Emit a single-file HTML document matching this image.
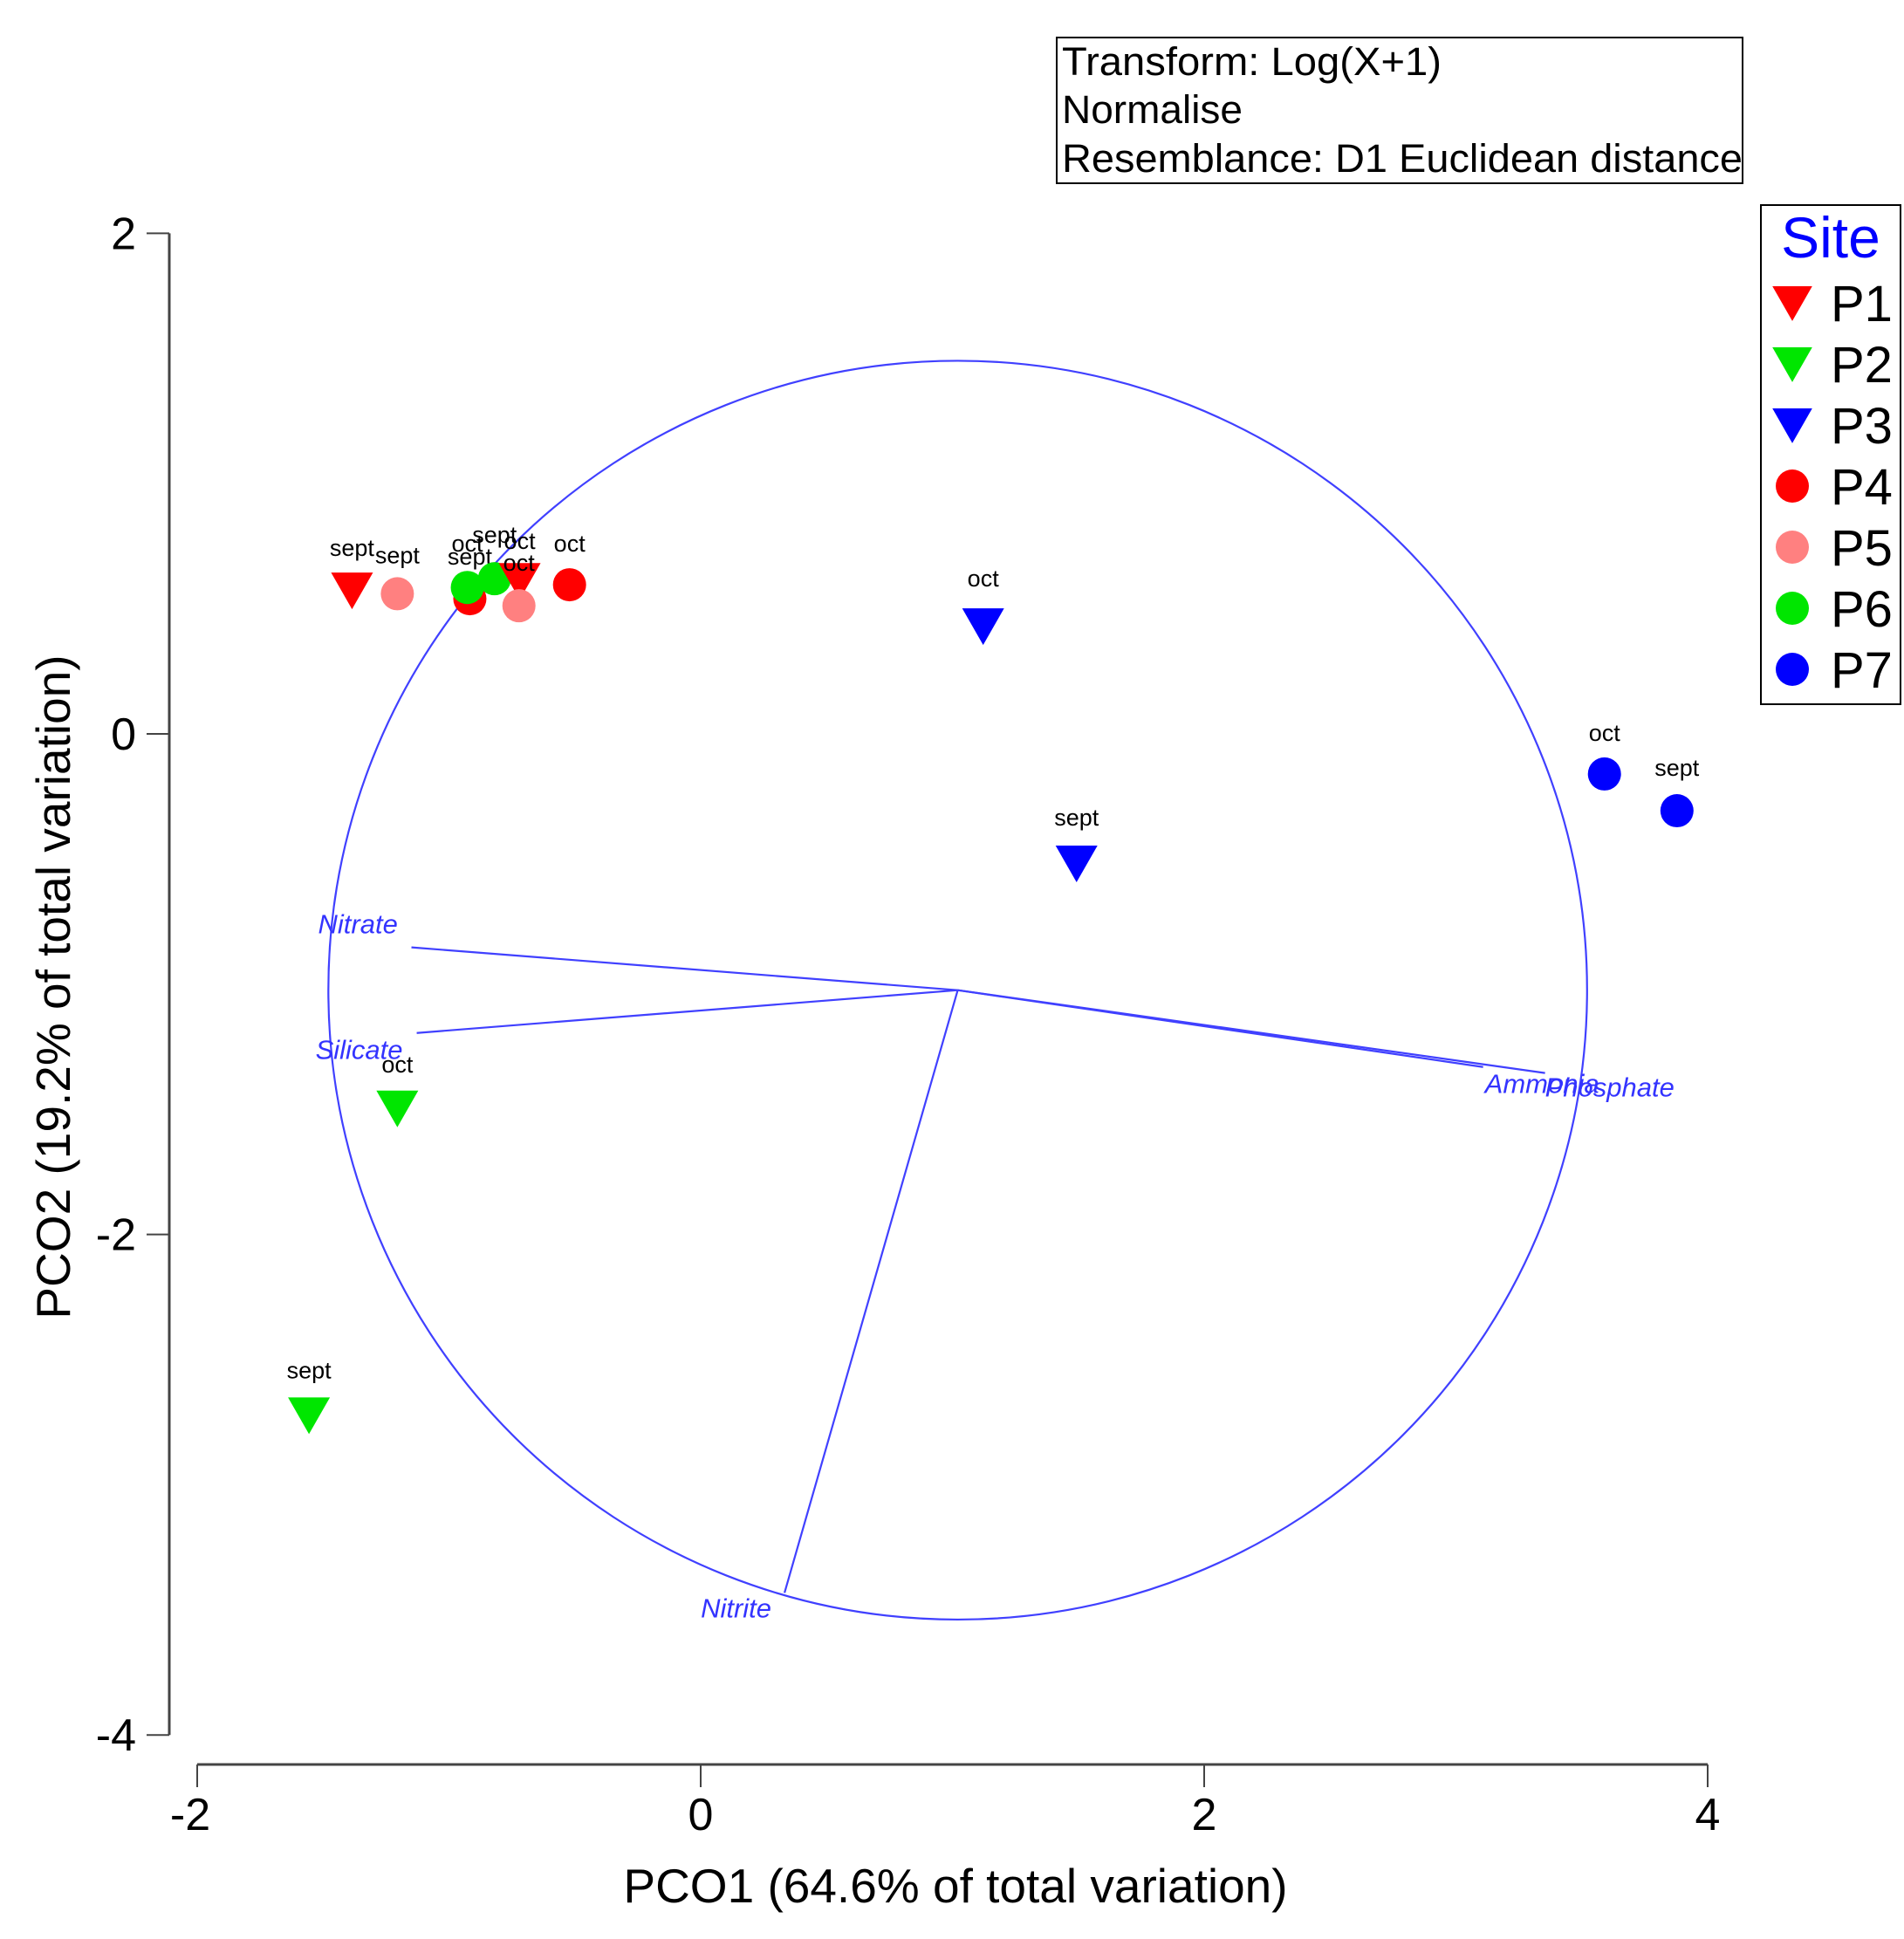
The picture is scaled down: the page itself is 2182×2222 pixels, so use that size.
<!DOCTYPE html>
<html><head><meta charset="utf-8"><style>
html,body{margin:0;padding:0;background:#fff;}
svg{display:block;font-family:"Liberation Sans",Arial,sans-serif;}
</style></head><body>
<svg id="chart" width="2182" height="2222" viewBox="0 0 2182 2222" xmlns="http://www.w3.org/2000/svg">
<g id="axes"></g>
<g id="vectors"></g>
<g id="points"></g>
<g>
<rect x="1211" y="43" width="786" height="167" fill="#fff" stroke="#000" stroke-width="2"/>
<text x="1217" y="86" font-size="45" fill="#000" textLength="435" lengthAdjust="spacingAndGlyphs">Transform: Log(X+1)</text>
<text x="1217" y="141" font-size="45" fill="#000" textLength="207" lengthAdjust="spacingAndGlyphs">Normalise</text>
<text x="1217" y="197" font-size="45" fill="#000" textLength="780" lengthAdjust="spacingAndGlyphs">Resemblance: D1 Euclidean distance</text>
</g>
<g id="legend">
<rect x="2018" y="235" width="160" height="572" fill="#fff" stroke="#000" stroke-width="2"/>
<text x="2098" y="295" font-size="66" fill="#0000ff" text-anchor="middle">Site</text>
</g>
<text x="1095" y="2180" font-size="55" text-anchor="middle" fill="#000">PCO1 (64.6% of total variation)</text>
<text x="0" y="0" font-size="55" text-anchor="middle" fill="#000" transform="translate(80,1131) rotate(-90)">PCO2 (19.2% of total variation)</text>
</svg>
<script>
const sites = ["P1","P2","P3","P4","P5","P6","P7"];
const siteColors = ["#ff0000","#00e600","#0000ff","#ff0000","#ff8080","#00e600","#0000ff"];
const siteShapes = ["tri","tri","tri","circle","circle","circle","circle"];
const pointSite = ["P1","P5","P4","P6","P6","P1","P5","P4","P3","P3","P7","P7","P2","P2"];
const pointLabel = ["sept","sept","sept","oct","sept","oct","oct","oct","oct","sept","oct","sept","oct","sept"];
const pointX = [-1.385,-1.205,-0.917,-0.927,-0.819,-0.719,-0.722,-0.521,1.122,1.493,3.590,3.878,-1.205,-1.556];
const pointY = [0.575,0.560,0.540,0.585,0.620,0.613,0.512,0.596,0.432,-0.516,-0.160,-0.307,-1.495,-2.721];
const labelDy = [-48,-44,-48,-50,-50,-45,-49,-47,-54,-52,-47,-49,-50,-51];
const vecNames = ["Nitrate","Silicate","Nitrite","Ammonia","Phosphate"];
const vecX = [-2.17,-2.149,-0.688,2.087,2.333];
const vecY = [0.171,-0.171,-2.408,-0.307,-0.331];
const circleCenter = [1.021,-1.024];
const circleRadius = 2.5;
const xTicks = [-2,0,2,4];
const yTicks = [2,0,-2,-4];

const NS="http://www.w3.org/2000/svg";
const X0=803, XS=288.5, Y0=841, YS=286.8;
const sx=v=>X0+v*XS, sy=v=>Y0-v*YS;
function mk(tag,attrs,parent){const e=document.createElementNS(NS,tag);for(const k in attrs)e.setAttribute(k,attrs[k]);parent.appendChild(e);return e;}

const axes=document.getElementById('axes');
let yl=mk('line',{x1:194,y1:sy(2),x2:194,y2:sy(-4),stroke:'#444','stroke-width':3},axes);


let xl=mk('line',{x1:sx(-2),y1:2022,x2:sx(4),y2:2022,stroke:'#444','stroke-width':3},axes);


yTicks.forEach(t=>{
  const l=mk('line',{x1:168,y1:sy(t),x2:194,y2:sy(t),stroke:'#444','stroke-width':2},axes);
  
  
  const tx=mk('text',{x:156,y:sy(t)+18,'font-size':52,'text-anchor':'end',fill:'#000'},axes);
  tx.textContent=String(t);
  
  
});
xTicks.forEach(t=>{
  const l=mk('line',{x1:sx(t),y1:2022,x2:sx(t),y2:2048,stroke:'#444','stroke-width':2},axes);
  
  
  const tx=mk('text',{x:sx(t)-(t<0?8:0),y:2097,'font-size':52,'text-anchor':'middle',fill:'#000'},axes);
  tx.textContent=String(t);
  
  
});

const vg=document.getElementById('vectors');
const cx=sx(circleCenter[0]), cy=sy(circleCenter[1]);
const circ=mk('circle',{cx:cx,cy:cy,r:circleRadius*XS,fill:'none',stroke:'#4040ff','stroke-width':2.2},vg);


const labelOff={Nitrate:[-107,-26],Silicate:[-116,20],Nitrite:[-96,18],Ammonia:[2,20],Phosphate:[0,17]};
vecNames.forEach((n,i)=>{
  const ex=sx(circleCenter[0]+vecX[i]), ey=sy(circleCenter[1]+vecY[i]);
  const l=mk('line',{x1:cx,y1:cy,x2:ex,y2:ey,stroke:'#4040ff','stroke-width':2.2},vg);
  
  
  const o=labelOff[n];
  const t=mk('text',{x:ex+o[0],y:ey+o[1]+10,'font-size':31,'font-style':'italic',fill:'#3333ff'},vg);
  t.textContent=n;
  
  
});

function marker(shape,color,x,y,g,s){
  let e;
  if(shape==='tri'){
    e=mk('polygon',{points:`${x-24*s},${y-20*s} ${x+24*s},${y-20*s} ${x},${y+22*s}`,fill:color},g);
  } else {
    e=mk('circle',{cx:x,cy:y,r:19*s,fill:color},g);
  }
  return e;
}
const pg=document.getElementById('points');
pointX.forEach((v,i)=>{
  const si=sites.indexOf(pointSite[i]);
  const px=sx(v), py=sy(pointY[i]);
  const m=marker(siteShapes[si],siteColors[si],px,py,pg,1);
  
  
  const t=mk('text',{x:px,y:py+labelDy[i]+9,'font-size':27,'text-anchor':'middle',fill:'#000'},pg);
  t.textContent=pointLabel[i];
  
  
});

const lg=document.getElementById('legend');
sites.forEach((s,i)=>{
  const y=347+i*70;
  const m=marker(siteShapes[i],siteColors[i],2054,y,lg,siteShapes[i]==='tri'?0.95:1);
  
  
  const t=mk('text',{x:2098,y:y+21,'font-size':58,fill:'#000'},lg);
  t.textContent=s;
  
  
});
</script>
</body></html>
